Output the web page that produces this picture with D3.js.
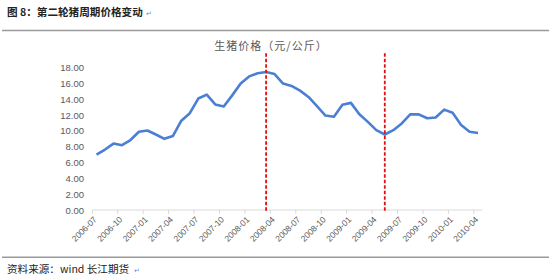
<!DOCTYPE html>
<html>
<head>
<meta charset="utf-8">
<script src="https://cdn.jsdelivr.net/npm/d3@7"></script>
<style>
  body { margin: 0; background: #fff; }
  svg { display: block; }
  .tick text { fill: #595959; }
</style>
</head>
<body>
<script>
(function(){

//monthly price, 2006-07 .. 2010-04
var months = ["2006-07","2006-08","2006-09","2006-10","2006-11","2006-12",
  "2007-01","2007-02","2007-03","2007-04","2007-05","2007-06",
  "2007-07","2007-08","2007-09","2007-10","2007-11","2007-12",
  "2008-01","2008-02","2008-03","2008-04","2008-05","2008-06",
  "2008-07","2008-08","2008-09","2008-10","2008-11","2008-12",
  "2009-01","2009-02","2009-03","2009-04","2009-05","2009-06",
  "2009-07","2009-08","2009-09","2009-10","2009-11","2009-12",
  "2010-01","2010-02","2010-03","2010-04"];
var prices = [7.0, 7.65, 8.4, 8.2, 8.85, 9.9,
  10.05, 9.55, 9.0, 9.35, 11.3, 12.25,
  14.1, 14.6, 13.35, 13.1, 14.5, 16.0,
  16.9, 17.3, 17.45, 17.2, 16.0, 15.7,
  15.1, 14.3, 13.15, 11.95, 11.8, 13.3,
  13.55, 12.1, 11.15, 10.1, 9.55, 10.1,
  10.95, 12.1, 12.1, 11.6, 11.7, 12.7,
  12.3, 10.75, 9.9, 9.75];
var tickLabels = ["2006-07","2006-10","2007-01","2007-04","2007-07","2007-10",
  "2008-01","2008-04","2008-07","2008-10","2009-01","2009-04",
  "2009-07","2009-10","2010-01","2010-04"];
var yTicks = [0, 2, 4, 6, 8, 10, 12, 14, 16, 18];
var markers = ["2008-03", "2009-05"]; //turning points

var width = 550, height = 280;

var svg = d3.select("body").append("svg")
    .attr("width", width)
    .attr("height", height);

//heading and source text
svg.append("text")
    .attr("x", 7).attr("y", 16)
    .style("font-family", "'Noto Sans CJK SC', sans-serif")
    .style("font-size", "10.6px")
    .style("font-weight", "bold")
    .style("fill", "#222")
    .text("图 8：第二轮猪周期价格变动");
svg.append("text")
    .attr("x", 146).attr("y", 16)
    .style("font-size", "7px").style("fill", "#5b8fd6")
    .text("↵");

svg.append("text")
    .attr("x", 7).attr("y", 273)
    .style("font-family", "'Noto Sans CJK SC', sans-serif")
    .style("font-size", "10.6px")
    .style("fill", "#222")
    .text("资料来源：wind 长江期货");
svg.append("text")
    .attr("x", 134).attr("y", 273)
    .style("font-size", "7px").style("fill", "#5b8fd6")
    .text("↵");

//rules above and below the chart
[30.5, 257.3].forEach(function(y){
    svg.append("line")
        .attr("x1", 2).attr("x2", 549)
        .attr("y1", y).attr("y2", y)
        .attr("stroke", "#9a9a9a")
        .attr("stroke-width", 1.5);
});

//chart title
svg.append("text")
    .attr("x", 271).attr("y", 50)
    .attr("text-anchor", "middle")
    .style("font-family", "'Noto Sans CJK SC', sans-serif")
    .style("font-size", "11px")
    .style("letter-spacing", "1px")
    .style("fill", "#595959")
    .text("生猪价格（元/公斤）");

//scales
var x = d3.scaleBand()
    .domain(months)
    .range([92.3, 482.3]);

var y = d3.scaleLinear()
    .domain([0, 18])
    .range([210, 67.7]);

//y axis labels, no line
var yAxis = svg.append("g")
    .attr("transform", "translate(92,0)")
    .call(d3.axisLeft(y).tickValues(yTicks).tickSize(0).tickPadding(8)
        .tickFormat(d3.format(".2f")));
yAxis.select(".domain").remove();
yAxis.selectAll("text")
    .style("font-family", "'Liberation Sans', Arial, sans-serif")
    .style("font-size", "9.5px");

//x axis baseline
svg.append("line")
    .attr("x1", x.range()[0]).attr("x2", x.range()[1])
    .attr("y1", y(0)).attr("y2", y(0))
    .attr("stroke", "#d9d9d9");

var xg = svg.append("g");
xg.selectAll(".xtick")
    .data(tickLabels)
    .enter()
    .append("line")
    .attr("x1", function(d){ return x(d); })
    .attr("x2", function(d){ return x(d); })
    .attr("y1", y(0)).attr("y2", y(0) + 4)
    .attr("stroke", "#d9d9d9");
xg.selectAll(".xlabel")
    .data(tickLabels)
    .enter()
    .append("text")
    .attr("transform", function(d){
        return "translate(" + (x(d) + 3) + "," + (y(0) + 8) + ") rotate(-45)";
    })
    .attr("text-anchor", "end")
    .attr("dy", "0.35em")
    .style("font-family", "'Liberation Sans', Arial, sans-serif")
    .style("font-size", "8.5px")
    .style("fill", "#595959")
    .text(function(d){ return d; });

//price line
var line = d3.line()
    .x(function(d, i){ return x(months[i]) + x.bandwidth() / 2; })
    .y(function(d){ return y(d); });

svg.append("path")
    .datum(prices)
    .attr("d", line)
    .attr("fill", "none")
    .attr("stroke", "#4a7fd4")
    .attr("stroke-width", 2.6)
    .attr("stroke-linejoin", "round");

//red dashed markers
svg.selectAll(".marker")
    .data(markers)
    .enter()
    .append("line")
    .attr("x1", function(d){ return x(d) + x.bandwidth() / 2; })
    .attr("x2", function(d){ return x(d) + x.bandwidth() / 2; })
    .attr("y1", 53.3).attr("y2", 212)
    .attr("stroke", "#e01010")
    .attr("stroke-width", 1.8)
    .attr("stroke-dasharray", "3.5,2");

})();
</script>
</body>
</html>
